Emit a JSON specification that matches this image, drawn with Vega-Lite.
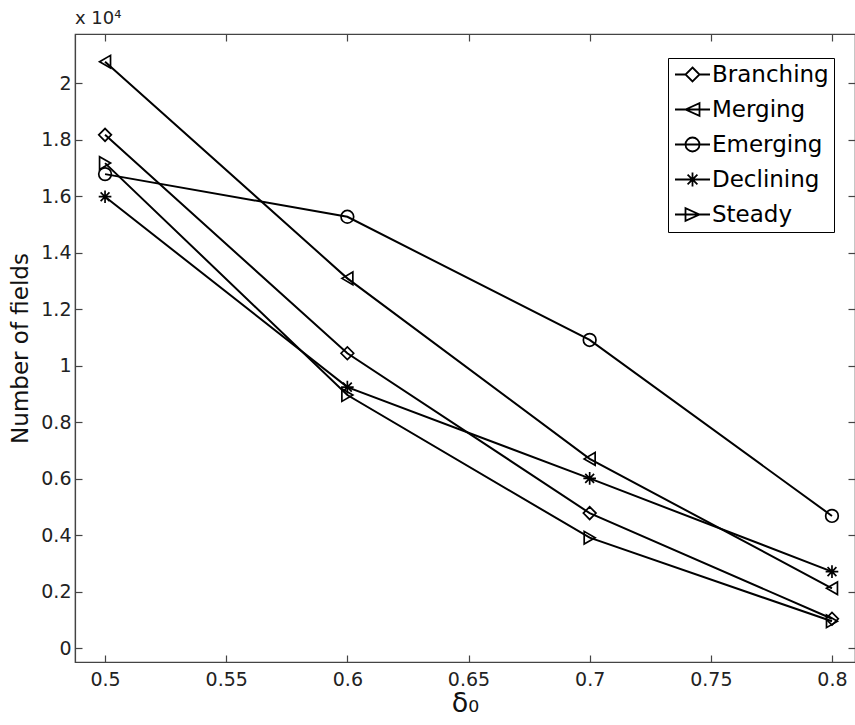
{
  "$schema": "https://vega.github.io/schema/vega-lite/v6.json",
  "width": 780,
  "height": 628,
  "autosize": {"type": "none"},
  "padding": {"left": 75, "top": 34, "right": 0, "bottom": 63},
  "background": "white",
  "title": {"text": "x 10⁴", "anchor": "start", "frame": "group", "offset": 5, "fontSize": 18, "fontWeight": "normal", "font": "DejaVu Sans", "color": "#222"},
  "config": {
    "font": "DejaVu Sans",
    "view": {"stroke": "#444", "strokeWidth": 1.2},
    "axis": {
      "grid": false,
      "domainColor": "#444",
      "domainWidth": 1.2,
      "tickColor": "#444",
      "tickWidth": 1.2,
      "tickSize": -7,
      "labelFontSize": 19,
      "labelColor": "#222",
      "titleColor": "#111",
      "titleFontWeight": "normal"
    }
  },
  "data": {
    "values": [
      {"x": 0.5, "series": "Branching", "v": 18180},
      {"x": 0.6, "series": "Branching", "v": 10450},
      {"x": 0.7, "series": "Branching", "v": 4790},
      {"x": 0.8, "series": "Branching", "v": 1050},
      {"x": 0.5, "series": "Merging", "v": 20770},
      {"x": 0.6, "series": "Merging", "v": 13100},
      {"x": 0.7, "series": "Merging", "v": 6710},
      {"x": 0.8, "series": "Merging", "v": 2130},
      {"x": 0.5, "series": "Emerging", "v": 16790},
      {"x": 0.6, "series": "Emerging", "v": 15280},
      {"x": 0.7, "series": "Emerging", "v": 10920},
      {"x": 0.8, "series": "Emerging", "v": 4690},
      {"x": 0.5, "series": "Declining", "v": 15990},
      {"x": 0.6, "series": "Declining", "v": 9250},
      {"x": 0.7, "series": "Declining", "v": 6020},
      {"x": 0.8, "series": "Declining", "v": 2720},
      {"x": 0.5, "series": "Steady", "v": 17180},
      {"x": 0.6, "series": "Steady", "v": 8970},
      {"x": 0.7, "series": "Steady", "v": 3920},
      {"x": 0.8, "series": "Steady", "v": 960}
    ]
  },
  "layer": [
    {
      "mark": {"type": "line", "color": "black", "strokeWidth": 2},
      "encoding": {
        "x": {"field": "x", "type": "quantitative", "scale": {"domain": [0.4876, 0.8095], "nice": false, "zero": false},
              "axis": {"orient": "bottom", "values": [0.5, 0.55, 0.6, 0.65, 0.7, 0.75, 0.8], "format": "~g", "labelPadding": 15, "title": "δ₀", "titleFontSize": 27, "titlePadding": 1}},
        "y": {"field": "v", "type": "quantitative", "scale": {"domain": [-480, 21750], "nice": false, "zero": false},
              "axis": {"orient": "left", "values": [0, 2000, 4000, 6000, 8000, 10000, 12000, 14000, 16000, 18000, 20000], "labelExpr": "datum.value / 10000 + ''", "labelPadding": 11, "title": "Number of fields", "titleFontSize": 23, "titlePadding": 8}},
        "detail": {"field": "series"}
      }
    },
    {
      "mark": {"type": "point", "filled": false, "color": "black", "strokeWidth": 1.7, "size": 160, "opacity": 1},
      "encoding": {
        "x": {"field": "x", "type": "quantitative", "axis": {"orient": "top", "values": [0.5, 0.55, 0.6, 0.65, 0.7, 0.75, 0.8], "labels": false, "title": null, "domain": false}},
        "y": {"field": "v", "type": "quantitative", "axis": {"orient": "right", "values": [0, 2000, 4000, 6000, 8000, 10000, 12000, 14000, 16000, 18000, 20000], "labels": false, "title": null, "domain": false}},
        "shape": {"field": "series", "type": "nominal",
                  "scale": {"domain": ["Branching", "Merging", "Emerging", "Declining", "Steady"],
                            "range": ["diamond", "triangle-left", "circle", "M-1,0L1,0M0,-1L0,1M-0.7,-0.7L0.7,0.7M-0.7,0.7L0.7,-0.7", "triangle-right"]},
                  "legend": null}
      }
    },
    {
      "mark": {"type": "point", "filled": false, "color": "black", "strokeWidth": 1.8, "opacity": 0},
      "encoding": {
        "x": {"field": "x", "type": "quantitative", "axis": null},
        "y": {"field": "v", "type": "quantitative", "axis": null},
        "shape": {"field": "series", "type": "nominal",
                  "scale": {"domain": ["Branching", "Merging", "Emerging", "Declining", "Steady"],
                            "range": [
                              "M-2.5,0L-1,0M1,0L2.5,0M0,-1L1,0L0,1L-1,0Z",
                              "M-2.5,0L2.5,0M-1,0L1,-0.9L1,0.9Z",
                              "M-2.5,0L2.5,0M1,0A1,1,0,1,1,-1,0A1,1,0,1,1,1,0Z",
                              "M-2.5,0L2.5,0M0,-1L0,1M-0.7,-0.7L0.7,0.7M-0.7,0.7L0.7,-0.7",
                              "M-2.5,0L2.5,0M1,0L-1,-0.9L-1,0.9Z"
                            ]},
                  "legend": {
                    "orient": "none", "legendX": 593, "legendY": 24, "title": null,
                    "symbolSize": 196, "symbolStrokeWidth": 1.8, "symbolStrokeColor": "black", "symbolFillColor": "transparent",
                    "labelFontSize": 23, "labelColor": "black", "labelFont": "DejaVu Sans",
                    "strokeColor": "black", "fillColor": "white", "padding": 5, "rowPadding": 11,
                    "symbolOffset": 8, "labelOffset": 8,
                    "encode": {"symbols": {"update": {"opacity": {"value": 1}, "fill": {"value": "transparent"}, "stroke": {"value": "black"}, "size": {"value": 196}}}}
                  }}
      }
    }
  ],
  "resolve": {"scale": {"shape": "independent"}, "axis": {"x": "independent", "y": "independent"}}
}
